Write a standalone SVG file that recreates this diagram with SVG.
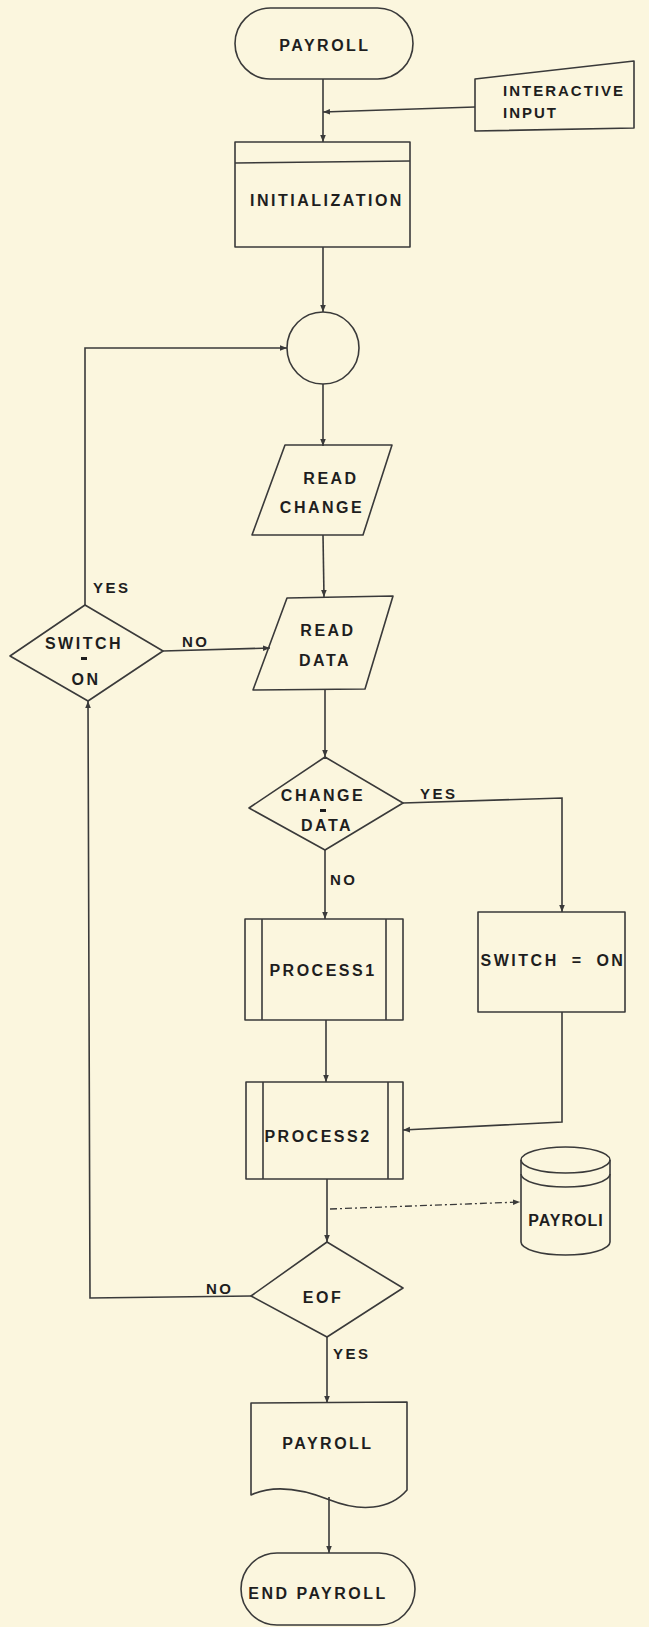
<svg xmlns="http://www.w3.org/2000/svg" width="649" height="1627" viewBox="0 0 649 1627">
<defs>
<style>
.shape{fill:none;stroke:#3a3a3a;stroke-width:1.6;stroke-linejoin:round}
.line{fill:none;stroke:#3a3a3a;stroke-width:1.6}
.dash{fill:none;stroke:#3a3a3a;stroke-width:1.3;stroke-dasharray:7,3,2,3}
.t{font-family:"Liberation Sans",Arial,sans-serif;font-size:16px;letter-spacing:2.5px;fill:#1e1e1e;text-anchor:middle;font-weight:bold}
.s{font-family:"Liberation Sans",Arial,sans-serif;font-size:15px;letter-spacing:2.5px;fill:#1e1e1e;font-weight:bold}
</style>
<marker id="arr" viewBox="0 0 10 10" refX="10" refY="5" markerWidth="7" markerHeight="7" orient="auto" markerUnits="userSpaceOnUse">
<path d="M0,1 L10,5 L0,9 Z" fill="#3a3a3a"/>
</marker>
</defs>
<rect x="0" y="0" width="649" height="1627" fill="#FBF6DE"/>

<g id="connectors">
<line class="line" x1="323" y1="79" x2="323" y2="142" marker-end="url(#arr)"/>
<line class="line" x1="475" y1="107" x2="323" y2="112" marker-end="url(#arr)"/>
<line class="line" x1="323" y1="247" x2="323" y2="312" marker-end="url(#arr)"/>
<line class="line" x1="323" y1="384" x2="323" y2="446" marker-end="url(#arr)"/>
<line class="line" x1="323" y1="535" x2="324" y2="597" marker-end="url(#arr)"/>
<line class="line" x1="325" y1="690" x2="325" y2="757" marker-end="url(#arr)"/>
<polyline class="line" points="85,605 85,348 287,348" marker-end="url(#arr)"/>
<line class="line" x1="163" y1="651" x2="270" y2="648" marker-end="url(#arr)"/>
<polyline class="line" points="403,803 562,798 562,912" marker-end="url(#arr)"/>
<line class="line" x1="325" y1="850" x2="325" y2="919" marker-end="url(#arr)"/>
<line class="line" x1="326" y1="1020" x2="326" y2="1082" marker-end="url(#arr)"/>
<polyline class="line" points="562,1012 562,1122 403,1130" marker-end="url(#arr)"/>
<line class="line" x1="327" y1="1179" x2="327" y2="1242" marker-end="url(#arr)"/>
<line class="dash" x1="330" y1="1209" x2="520" y2="1202" marker-end="url(#arr)"/>
<polyline class="line" points="251,1296 90,1298 88,701" marker-end="url(#arr)"/>
<line class="line" x1="327" y1="1337" x2="327" y2="1403" marker-end="url(#arr)"/>
<line class="line" x1="329" y1="1497" x2="329" y2="1553" marker-end="url(#arr)"/>
<text class="s" x="93" y="593">YES</text>
<text class="s" x="182" y="647">NO</text>
<text class="s" x="420" y="799">YES</text>
<text class="s" x="330" y="885">NO</text>
<text class="s" x="206" y="1294">NO</text>
<text class="s" x="333" y="1359">YES</text>
</g>

<g id="start">
<rect class="shape" x="235" y="8" width="178" height="71" rx="35.5"/>
<text class="t" x="325" y="51">PAYROLL</text>
</g>

<g id="interactive-input">
<path class="shape" d="M475,79 L634,61 L634,128 L475,131 Z"/>
<text class="t" x="503" y="96" style="text-anchor:start;font-size:15px;letter-spacing:2px">INTERACTIVE</text>
<text class="t" x="503" y="118" style="text-anchor:start;font-size:15px;letter-spacing:2px">INPUT</text>
</g>

<g id="initialization">
<rect class="shape" x="235" y="142" width="175" height="105"/>
<line class="shape" x1="235" y1="163" x2="410" y2="161"/>
<text class="t" x="327" y="206">INITIALIZATION</text>
</g>

<g id="connector-circle">
<circle class="shape" cx="323" cy="348" r="36"/>
</g>

<g id="read-change">
<path class="shape" d="M285,445 L392,445 L363,535 L252,535 Z"/>
<text class="t" x="331" y="484">READ</text>
<text class="t" x="322" y="513">CHANGE</text>
</g>

<g id="read-data">
<path class="shape" d="M287,598 L393,596 L365,689 L253,690 Z"/>
<text class="t" x="328" y="636">READ</text>
<text class="t" x="325" y="666">DATA</text>
</g>

<g id="switch-decision">
<path class="shape" d="M85,605 L163,651 L88,701 L10,656 Z"/>
<text class="t" x="84" y="649">SWITCH</text>
<rect x="81" y="657" width="6" height="3" fill="#1e1e1e"/>
<text class="t" x="86" y="685">ON</text>
</g>

<g id="change-data-decision">
<path class="shape" d="M325,757 L403,803 L325,850 L249,808 Z"/>
<text class="t" x="323" y="801">CHANGE</text>
<rect x="320" y="809" width="6" height="3" fill="#1e1e1e"/>
<text class="t" x="327" y="831">DATA</text>
</g>

<g id="process1">
<rect class="shape" x="245" y="919" width="158" height="101"/>
<line class="shape" x1="262" y1="919" x2="262" y2="1020"/>
<line class="shape" x1="386" y1="919" x2="386" y2="1020"/>
<text class="t" x="323" y="976">PROCESS1</text>
</g>

<g id="switch-on">
<rect class="shape" x="478" y="912" width="147" height="100"/>
<text class="t" x="553" y="966" style="word-spacing:6px">SWITCH = ON</text>
</g>

<g id="process2">
<rect class="shape" x="246" y="1082" width="157" height="97"/>
<line class="shape" x1="263" y1="1082" x2="263" y2="1179"/>
<line class="shape" x1="388" y1="1082" x2="388" y2="1179"/>
<text class="t" x="318" y="1142">PROCESS2</text>
</g>

<g id="payroll-file">
<path class="shape" d="M521,1160 L521,1242 A44.5,13 0 0 0 610,1242 L610,1160"/>
<ellipse class="shape" cx="565.5" cy="1160" rx="44.5" ry="13"/>
<path class="shape" d="M521,1174 A44.5,13 0 0 0 610,1174"/>
<text class="t" x="566" y="1226" style="letter-spacing:1px">PAYROLI</text>
</g>

<g id="eof-decision">
<path class="shape" d="M327,1242 L403,1288 L327,1337 L251,1296 Z"/>
<text class="t" x="323" y="1303">EOF</text>
</g>

<g id="payroll-report">
<path class="shape" d="M251,1403 L407,1402 L407,1490 C390,1510 360,1512 330,1500 C300,1488 272,1485 251,1495 Z"/>
<text class="t" x="328" y="1449">PAYROLL</text>
</g>

<g id="end">
<rect class="shape" x="241" y="1553" width="174" height="72" rx="36"/>
<text class="t" x="318" y="1599">END PAYROLL</text>
</g>
</svg>
